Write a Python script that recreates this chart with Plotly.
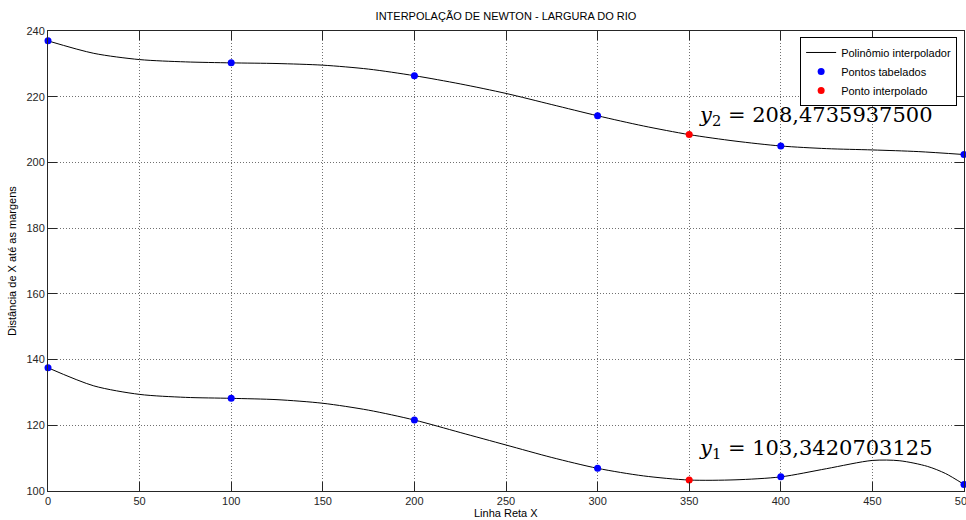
import plotly.graph_objects as go

# Tabulated points
x_tab = [0, 100, 200, 300, 400, 500]
upper_tab = [237.0, 230.3, 226.4, 214.2, 205.0, 202.4]
lower_tab = [137.5, 128.2, 121.6, 106.9, 104.3, 102.0]

# Interpolated points
x_interp = [350, 350]
y_interp = [208.4735937500, 103.3420703125]

# Polynomial curves
upper_curve_x = [0, 25, 50, 75, 100, 125, 150, 175, 200, 225, 250, 275, 300, 325, 350, 375, 400, 425, 450, 475, 500]
upper_curve_y = [237.0, 233.2, 231.3, 230.6, 230.3, 230.1, 229.6, 228.4, 226.4, 223.9, 221.0, 217.6, 214.2, 211.1, 208.47, 206.5, 205.0, 204.2, 203.8, 203.3, 202.4]
lower_curve_x = [0, 25, 50, 75, 100, 125, 150, 175, 200, 225, 250, 275, 300, 325, 350, 375, 400, 425, 450, 465, 480, 490, 500]
lower_curve_y = [137.5, 132.0, 129.4, 128.5, 128.2, 127.8, 126.7, 124.6, 121.6, 117.8, 114.0, 110.2, 106.9, 104.6, 103.34, 103.4, 104.3, 106.8, 109.3, 109.2, 107.5, 105.3, 102.0]

x_ticks = [0, 50, 100, 150, 200, 250, 300, 350, 400, 450, 500]
y_ticks = [100, 120, 140, 160, 180, 200, 220, 240]

labels = {
    "title": "INTERPOLAÇÃO DE NEWTON - LARGURA DO RIO",
    "xlabel": "Linha Reta X",
    "ylabel": "Distância de X até as margens",
    "curve": "Polinômio interpolador",
    "tab": "Pontos tabelados",
    "interp": "Ponto interpolado",
    "y2": "<i>y</i><sub>2</sub> = 208,4735937500",
    "y1": "<i>y</i><sub>1</sub> = 103,3420703125",
}

BLUE = "#0000ff"
RED = "#ff0000"
FONT = "Liberation Sans"

fig = go.Figure()
fig.add_trace(go.Scatter(x=upper_curve_x, y=upper_curve_y, mode="lines",
                         line=dict(color="#000000", width=1, shape="spline", smoothing=0.8),
                         name=labels["curve"], legendgroup="c"))
fig.add_trace(go.Scatter(x=lower_curve_x, y=lower_curve_y, mode="lines",
                         line=dict(color="#000000", width=1, shape="spline", smoothing=0.8),
                         name=labels["curve"], legendgroup="c", showlegend=False))
fig.add_trace(go.Scatter(x=x_tab, y=upper_tab, mode="markers",
                         marker=dict(color=BLUE, size=7), name=labels["tab"],
                         legendgroup="t", cliponaxis=False))
fig.add_trace(go.Scatter(x=x_tab, y=lower_tab, mode="markers",
                         marker=dict(color=BLUE, size=7), name=labels["tab"],
                         legendgroup="t", showlegend=False, cliponaxis=False))
fig.add_trace(go.Scatter(x=x_interp, y=y_interp, mode="markers",
                         marker=dict(color=RED, size=7), name=labels["interp"],
                         cliponaxis=False))

axis_common = dict(
    showline=True, linecolor="#262626", linewidth=1, mirror="ticks",
    ticks="inside", ticklen=9, tickcolor="#262626", tickwidth=1,
    showgrid=True, gridcolor="#707070", griddash="1px,2px", gridwidth=1,
    zeroline=False, tickfont=dict(family=FONT, size=11, color="#262626"),
    ticklabeloverflow="allow", automargin=False,
)

fig.update_xaxes(range=[0, 500], tickvals=x_ticks, ticktext=[str(v) for v in x_ticks], **axis_common)
fig.update_yaxes(range=[100, 240], tickvals=y_ticks, ticktext=[str(v) for v in y_ticks], **axis_common)

fig.update_layout(
    width=966, height=520,
    margin=dict(l=48, r=2, t=31, b=29),
    paper_bgcolor="white", plot_bgcolor="white",
    font=dict(family=FONT, size=11, color="#000000"),
    title=dict(text=labels["title"], x=(48 + 458) / 966, xanchor="center",
               y=1 - 16 / 520, yanchor="middle",
               font=dict(family=FONT, size=11, color="#000000")),
    legend=dict(x=0.9925, y=0.987, xanchor="right", yanchor="top",
                bgcolor="white", bordercolor="#000000", borderwidth=1,
                font=dict(family=FONT, size=11, color="#000000"),
                tracegroupgap=0, itemwidth=30),
    showlegend=True,
)

fig.add_annotation(text=labels["xlabel"], xref="paper", yref="paper",
                   x=0.5, y=-(513 - 491) / 460, xanchor="center", yanchor="middle",
                   showarrow=False, font=dict(family=FONT, size=11, color="#000000"))
fig.add_annotation(text=labels["ylabel"], xref="paper", yref="paper",
                   x=-(48 - 12) / 916, y=0.5, xanchor="center", yanchor="middle",
                   textangle=-90, showarrow=False,
                   font=dict(family=FONT, size=11, color="#000000"))
fig.add_annotation(text=labels["y2"], x=354, y=214.1, xref="x", yref="y",
                   xanchor="left", yanchor="middle", showarrow=False,
                   font=dict(family="DejaVu Serif", size=21, color="#000000"))
fig.add_annotation(text=labels["y1"], x=354, y=112.7, xref="x", yref="y",
                   xanchor="left", yanchor="middle", showarrow=False,
                   font=dict(family="DejaVu Serif", size=21, color="#000000"))

fig.write_html("out.html")
